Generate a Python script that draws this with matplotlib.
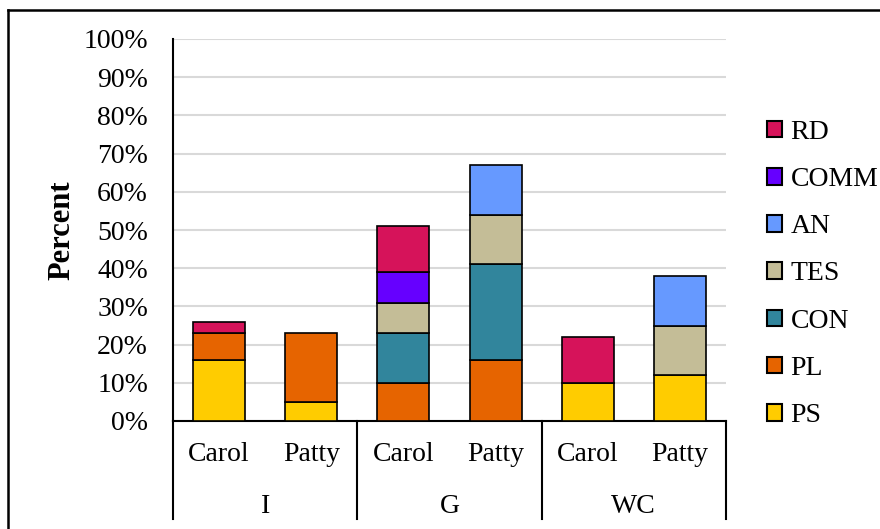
import matplotlib.pyplot as plt
from matplotlib.patches import Patch
from matplotlib.lines import Line2D
import numpy as np

plt.rcParams['font.family'] = ['Liberation Serif', 'DejaVu Serif']

# Categories: person within each setting
people = ["Carol", "Patty", "Carol", "Patty", "Carol", "Patty"]
groups = ["I", "G", "WC"]

# Percent per code, stacked from bottom (PS) to top (RD)
codes = ["PS", "PL", "CON", "TES", "AN", "COMM", "RD"]
ps = [16, 5, 0, 0, 10, 12]
pl = [7, 18, 10, 16, 0, 0]
con = [0, 0, 13, 25, 0, 0]
tes = [0, 0, 8, 13, 0, 13]
an = [0, 0, 0, 13, 0, 13]
comm = [0, 0, 8, 0, 0, 0]
rd = [3, 0, 12, 0, 12, 0]
series = [ps, pl, con, tes, an, comm, rd]
colors = ["#FFCC00", "#E66400", "#31859C", "#C4BD97", "#6699FF", "#6600FF", "#D6135A"]

FS = 20

fig = plt.figure(figsize=(8.8, 5.29), dpi=100)
ax = fig.add_axes([173 / 880, 1 - 421 / 529, 553 / 880, 382 / 529])

x = np.arange(len(people))
bottom = np.zeros(len(people))
for vals, col in zip(series, colors):
    v = np.array(vals, dtype=float)
    mask = v > 0
    ax.bar(x[mask], v[mask], bottom=bottom[mask], width=0.565, color=col,
           edgecolor="black", linewidth=1.2, zorder=3)
    bottom += v

ax.set_xlim(-0.5, 5.5)
ax.set_ylim(0, 100)
ax.set_yticks(range(0, 101, 10))
ax.set_yticklabels([f"{t}%" for t in range(0, 101, 10)], fontsize=FS)
ax.tick_params(axis="y", length=0, pad=18)
ax.set_xticks([])
ax.yaxis.grid(True, color="#D9D9D9", linewidth=1.5, zorder=0)
ax.set_axisbelow(True)
for s in ["top", "right"]:
    ax.spines[s].set_visible(False)
ax.spines["left"].set_linewidth(1.5)
ax.spines["bottom"].set_linewidth(1.5)

# two-level category labels under the axis
trans = ax.get_xaxis_transform()
for i, name in enumerate(people):
    ax.text(i, -0.089, name, transform=trans, ha="center", va="center", fontsize=FS)
for j, g in enumerate(groups):
    ax.text(2 * j + 0.5, -0.225, g, transform=trans, ha="center", va="center", fontsize=FS)
for sx in [-0.5, 1.5, 3.5, 5.5]:
    ax.add_line(Line2D([sx, sx], [0, -0.257], transform=trans, color="black",
                       linewidth=1.5, clip_on=False))

fig.text(62 / 880, 1 - 230 / 529, "Percent", rotation=90, ha="center", va="center",
         fontsize=22, fontweight="bold")

handles = [Patch(facecolor=c, edgecolor="black", linewidth=1.5) for c in colors]
leg = fig.legend(handles[::-1], codes[::-1], loc="center left",
                 bbox_to_anchor=(767 / 880, 1 - 274 / 529), frameon=False,
                 fontsize=FS, handlelength=0.55, handleheight=0.55,
                 handletextpad=0.3, labelspacing=0.8, borderpad=0, borderaxespad=0)

# outer chart border (top and left edges)
fig.add_artist(Line2D([8 / 880, 1.0], [1 - 10 / 529, 1 - 10 / 529], transform=fig.transFigure,
                      color="black", linewidth=1.8))
fig.add_artist(Line2D([8 / 880, 8 / 880], [0, 1 - 10 / 529], transform=fig.transFigure,
                      color="black", linewidth=1.8))

fig.savefig("out.png", dpi=100)
